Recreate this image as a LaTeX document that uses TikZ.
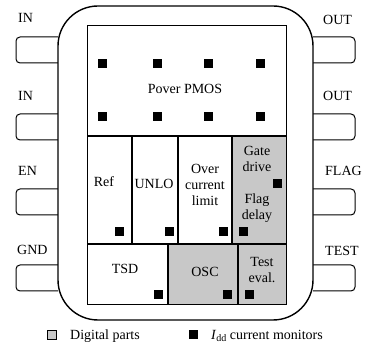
\documentclass[tikz,border=0pt]{standalone}
\usepackage{fontspec}
\setmainfont{Liberation Serif}
\usetikzlibrary{positioning}
\definecolor{digigray}{RGB}{200,200,200}

\begin{document}
\begin{tikzpicture}[
    x=1pt, y=-1pt,
    font=\fontsize{14}{16}\selectfont,
    chip/.style={draw, line width=1.4pt, rounded corners=40pt},
    pin/.style={draw, line width=1pt, rounded corners=4pt},
    cellline/.style={line width=1.4pt},
    monitor/.style={rectangle, fill=black, minimum size=9pt, inner sep=0pt},
    digibox/.style={rectangle, draw, thin, fill=digigray, minimum size=9pt, inner sep=0pt},
    pinlabel/.style={anchor=west, inner sep=0pt},
    txt/.style={align=center, inner sep=0pt}
]
\useasboundingbox (0,0) rectangle (365,347);

% pins
\foreach \y in {37,114,189,265} {
    \draw[pin] (58,\y) -| (16,\y+26) -- (58,\y+26);
    \draw[pin] (313,\y) -| (355,\y+26) -- (313,\y+26);
}
\node[pinlabel] (in1) at (18,18) {IN};
\node[pinlabel] (in2) at (18,96) {IN};
\node[pinlabel] (en) at (18,171) {EN};
\node[pinlabel] (gnd) at (17,250) {GND};
\node[pinlabel] (out1) at (323,20) {OUT};
\node[pinlabel] (out2) at (323,96) {OUT};
\node[pinlabel] (flag) at (325,171) {FLAG};
\node[pinlabel] (test) at (325,251) {TEST};

% package
\draw[chip, fill=white] (58,6) rectangle (313,320);

% digital blocks
\fill[digigray] (232,136) rectangle (286,244);
\fill[digigray] (168,244) rectangle (286,305);

% block grid
\draw[line width=1pt] (87,26) rectangle (286,305);
\draw[cellline] (87,136) -- (286,136);
\draw[cellline] (87,244) -- (286,244);
\foreach \x in {132,178,232}
    \draw[cellline] (\x,136) -- (\x,244);
\foreach \x in {168,238}
    \draw[cellline] (\x,244) -- (\x,305);

% block names
\node[txt] (pmos) at (185,89) {Pover PMOS};
\node[txt] (ref) at (104,182) {Ref};
\node[txt] (unlo) at (154,184) {UNLO};
\node[txt] (ocl) at (205,185) {Over\\current\\limit};
\node[txt] (gate) at (257,159) {Gate\\drive};
\node[txt] (flagd) at (257,208) {Flag\\delay};
\node[txt] (tsd) at (125,269) {TSD};
\node[txt] (osc) at (205,272) {OSC};
\node[txt] (teval) at (262,270) {Test\\eval.};

% current monitors
\foreach \x/\i in {102/1,157/2,208/3,260/4} {
    \node[monitor] (mt\i) at (\x,64) {};
    \node[monitor] (mb\i) at (\x,117) {};
}
\node[monitor] (mref) at (119,232) {};
\node[monitor] (munlo) at (169,232) {};
\node[monitor] (mocl) at (223,232) {};
\node[monitor] (mflag) at (243,232) {};
\node[monitor] (mgate) at (277,184) {};
\node[monitor] (mtsd) at (158,295) {};
\node[monitor] (mosc) at (227,295) {};
\node[monitor] (mtest) at (249,295) {};

% legend
\node[digibox] (legdig) at (52,335) {};
\node[anchor=west, inner sep=0pt] (legdigtxt) at (70,336) {Digital parts};
\node[monitor] (legmon) at (193,335) {};
\node[anchor=west, inner sep=0pt] (legmontxt) at (211,336)
    {\textit{I}\raisebox{-2.5pt}{\fontsize{10}{12}\selectfont dd} current monitors};
\end{tikzpicture}
\end{document}
